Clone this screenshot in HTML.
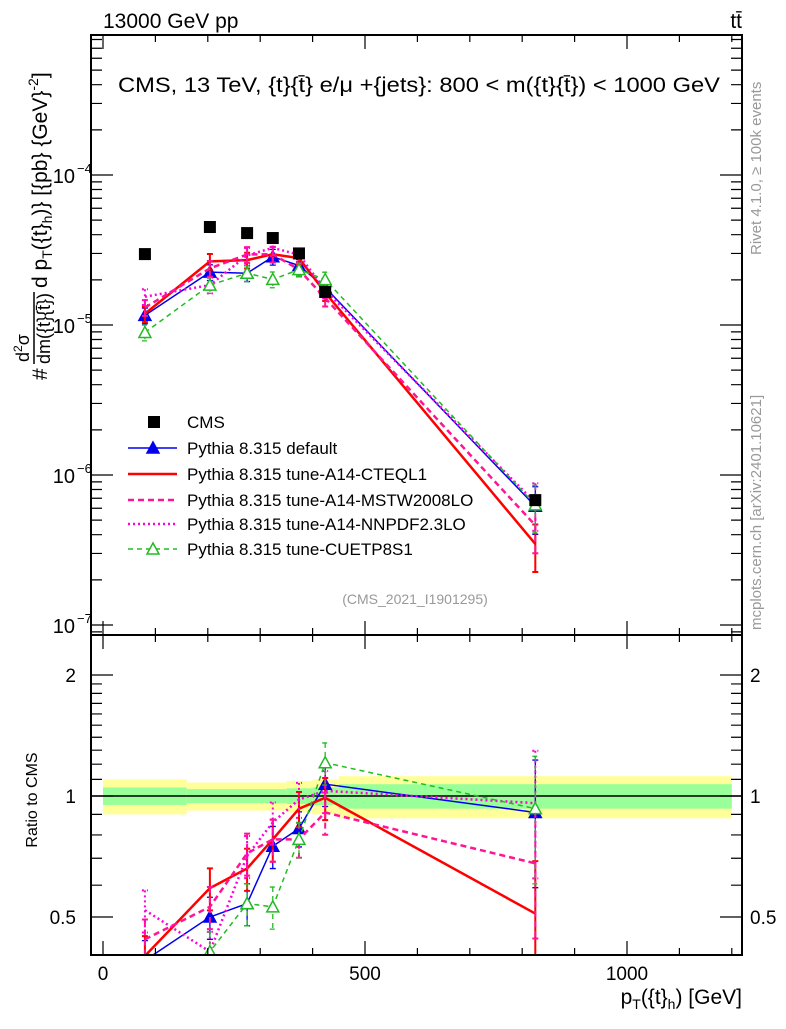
<!DOCTYPE html>
<html><head><meta charset="utf-8"><style>
body{margin:0;background:#fff;width:786px;height:1024px;overflow:hidden}
svg text{font-family:"Liberation Sans",sans-serif}
</style></head><body>
<svg id="c" width="786" height="1024" viewBox="0 0 786 1024" xmlns="http://www.w3.org/2000/svg">
<text x="103" y="28" font-size="21">13000 GeV pp</text>
<text x="742" y="28" font-size="21" text-anchor="end">tt̄</text>
<text x="118" y="92" font-size="21" textLength="602" lengthAdjust="spacingAndGlyphs">CMS, 13 TeV, {t}{t̄} e/μ +{jets}: 800 &lt; m({t}{t̄}) &lt; 1000 GeV</text>
<g transform="translate(39,380) rotate(-90)">
<text x="0" y="8" font-size="21">#</text>
<text x="18" y="-10" font-size="18">d<tspan font-size="12" dy="-7">2</tspan><tspan dy="7">σ</tspan></text>
<line x1="16" x2="88" y1="-5" y2="-5" stroke="#000" stroke-width="1.5"/>
<text x="16" y="11" font-size="18">dm({t}{t̄})</text>
<text x="92" y="8" font-size="21">d p<tspan font-size="14" dy="5">T</tspan><tspan dy="-5">({t}</tspan><tspan font-size="14" dy="5">h</tspan><tspan dy="-5">)} [{pb} {GeV}</tspan><tspan font-size="14" dy="-9">-2</tspan><tspan dy="9">]</tspan></text>
</g>
<text transform="translate(761,255) rotate(-90)" font-size="15" fill="#999">Rivet 4.1.0, ≥ 100k events</text>
<text transform="translate(761,630) rotate(-90)" font-size="15" fill="#999">mcplots.cern.ch [arXiv:2401.10621]</text>
<text x="415" y="604" font-size="14" fill="#999" text-anchor="middle">(CMS_2021_I1901295)</text>
<text transform="translate(37,800) rotate(-90)" font-size="16" text-anchor="middle">Ratio to CMS</text>
<text x="742" y="1004" font-size="21" text-anchor="end">p<tspan font-size="14" dy="5">T</tspan><tspan dy="-5">({t}</tspan><tspan font-size="14" dy="5">h</tspan><tspan dy="-5">) [GeV]</tspan></text>
<g id="g"></g>
</svg>
<script>
const xCenters=[80,204,275,324,374,424,825];
const binEdges=[0,160,250,350,400,450,1200];
const cmsValues=[2.97e-5,4.5e-5,4.1e-5,3.8e-5,3.0e-5,1.66e-5,6.8e-7];
const cmsErrIn=[0.05,0.04,0.04,0.045,0.05,0.07,0.07];
const cmsErrOut=[0.10,0.08,0.08,0.09,0.10,0.12,0.14];
const ratioDefault=[0.39,0.50,0.54,0.75,0.83,1.07,0.91];
const ratioCTEQ=[0.40,0.59,0.66,0.78,0.93,0.99,0.51];
const ratioMSTW=[0.44,0.53,0.72,0.78,0.78,0.91,0.68];
const ratioNNPDF=[0.52,0.41,0.71,0.86,0.98,1.03,0.96];
const ratioCUETP=[0.30,0.41,0.54,0.53,0.78,1.21,0.93];
const relErr=[0.12,0.12,0.12,0.12,0.1,0.12,0.35];
const yTicks=[1e-7,1e-6,1e-5,1e-4];
const yTickLabels=["10","10","10","10"];
const yTickExp=["−7","−6","−5","−4"];
const rTicks=[0.5,1,2];
const rTickLabels=["0.5","1","2"];
const xTicks=[0,500,1000];
const xTickLabels=["0","500","1000"];

const NS="http://www.w3.org/2000/svg";
const G=document.getElementById('g');
const L=91,R=742,MT=35,MB=635,RB=955;
const X=v=>103+v*0.524;
const Y=v=>175-150*(Math.log10(v)+4);
const RY=v=>796-402*Math.log10(v);
function el(t,a,p){const e=document.createElementNS(NS,t);for(const k in a)e.setAttribute(k,a[k]);(p||G).appendChild(e);return e;}

for(let i=0;i<binEdges.length-1;i++){
 const x0=X(binEdges[i]),x1=X(binEdges[i+1]);
 let b=el('rect',{x:x0,y:RY(1+cmsErrOut[i]),width:x1-x0,height:RY(1-cmsErrOut[i])-RY(1+cmsErrOut[i]),fill:'#ffff99'});
 
 
 b=el('rect',{x:x0,y:RY(1+cmsErrIn[i]),width:x1-x0,height:RY(1-cmsErrIn[i])-RY(1+cmsErrIn[i]),fill:'#99ff99'});
 
 
}
el('line',{x1:L,x2:R,y1:RY(1),y2:RY(1),stroke:'#000','stroke-width':1.5});

const defs=el('defs',{});
const c1=el('clipPath',{id:'cm'},defs);el('rect',{x:L,y:MT,width:R-L,height:MB-MT},c1);
const c2=el('clipPath',{id:'cr'},defs);el('rect',{x:L,y:MB,width:R-L,height:RB-MB},c2);
const gm=el('g',{'clip-path':'url(#cm)'});
const gr=el('g',{'clip-path':'url(#cr)'});

const series=[
 {r:ratioDefault,c:'#0000ee',w:1.5,d:'',m:'tri',f:true,n:'pythia-default'},
 {r:ratioCTEQ,c:'#ff0000',w:2.5,d:'',m:null,n:'pythia-a14-cteql1'},
 {r:ratioMSTW,c:'#ff1493',w:2.5,d:'6,4',m:null,n:'pythia-a14-mstw2008lo'},
 {r:ratioNNPDF,c:'#ff00dd',w:2.5,d:'2,3',m:null,n:'pythia-a14-nnpdf23lo'},
 {r:ratioCUETP,c:'#22bb22',w:1.5,d:'5,4',m:'tri',f:false,n:'pythia-cuetp8s1'}
];
function tri(p,x,y,s,fill){return el('polygon',{points:`${x},${y-6} ${x-6},${y+5} ${x+6},${y+5}`,fill:fill?s.c:'#fff',stroke:s.c,'stroke-width':1.5},p);}
series.forEach(s=>{
 const mv=s.r.map((r,i)=>r*cmsValues[i]);
 [[gm,i=>Y(mv[i]),v=>Y(v),mv],[gr,i=>RY(s.r[i]),v=>RY(v),s.r]].forEach(([p,fy,fv,vals],k)=>{
  const pl=el('polyline',{points:xCenters.map((x,i)=>X(x)+','+fy(i)).join(' '),fill:'none',stroke:s.c,'stroke-width':s.w,'stroke-dasharray':s.d},p);
  
  
  xCenters.forEach((x,i)=>{
   const up=fv(vals[i]*(1+relErr[i])),dn=fv(vals[i]*(1-relErr[i])),xx=X(x);
   const e=el('path',{d:`M${xx},${up}V${dn}M${xx-3},${up}h6M${xx-3},${dn}h6`,stroke:s.c,'stroke-width':s.w>2?2:1.3,'stroke-dasharray':s.d,fill:'none'},p);
   
   
   if(s.m){const t=tri(p,xx,fy(i),s,s.f);
    
    }
  });
 });
});
cmsValues.forEach((v,i)=>{
 const r=el('rect',{x:X(xCenters[i])-6,y:Y(v)-6,width:12,height:12,fill:'#000'},gm);
 
 
});

el('rect',{x:L,y:MT,width:R-L,height:MB-MT,fill:'none',stroke:'#000','stroke-width':2});
el('rect',{x:L,y:MB,width:R-L,height:RB-MB,fill:'none',stroke:'#000','stroke-width':2});
for(let v=0;v<=1200;v+=100){
 const x=X(v),big=v%500==0,h=big?14:7;
 el('path',{d:`M${x},${MT}v${h}M${x},${MB}v-${h}M${x},${MB}v${h}M${x},${RB}v-${h}`,stroke:'#000','stroke-width':1.2});
}
xTicks.forEach((v,i)=>{const t=el('text',{x:X(v),y:980,'font-size':19,'text-anchor':'middle'});t.textContent=xTickLabels[i];
 
 });
for(let d=-8;d<=-3;d++)for(let m=1;m<10;m++){
 const v=m*Math.pow(10,d),y=Y(v);if(y<MT||y>MB)continue;
 const h=m==1?22:11;
 el('path',{d:`M${L},${y}h${h}M${R},${y}h-${h}`,stroke:'#000','stroke-width':1.2});
}
yTicks.forEach((v,i)=>{const t=el('text',{x:75,y:Y(v)+8,'font-size':20,'text-anchor':'end'});t.textContent=yTickLabels[i];
 
 
 const e=el('text',{x:77,y:Y(v)-2,'font-size':13});e.textContent=yTickExp[i];});
[0.5,0.6,0.7,0.8,0.9,1,2].concat([1.1,1.2,1.3,1.4,1.5,1.6,1.7,1.8,1.9]).forEach(v=>{
 const y=RY(v),big=(v==0.5||v==1||v==2),h=big?22:11;
 el('path',{d:`M${L},${y}h${h}M${R},${y}h-${h}`,stroke:'#000','stroke-width':1.2});
});
rTicks.forEach((v,i)=>{
 let t=el('text',{x:76,y:RY(v)+7,'font-size':19,'text-anchor':'end'});t.textContent=rTickLabels[i];
 
 
 t=el('text',{x:750,y:RY(v)+7,'font-size':19});t.textContent=rTickLabels[i];
 
 
});

const lg=el('g',{});


const ly=[422,448,474,500,524,549];
el('rect',{x:148,y:ly[0]-6,width:12,height:12,fill:'#000'},lg);
const labels=['CMS','Pythia 8.315 default','Pythia 8.315 tune-A14-CTEQL1','Pythia 8.315 tune-A14-MSTW2008LO','Pythia 8.315 tune-A14-NNPDF2.3LO','Pythia 8.315 tune-CUETP8S1'];
series.forEach((s,i)=>{const y=ly[i+1];
 el('line',{x1:128,x2:177,y1:y,y2:y,stroke:s.c,'stroke-width':s.w,'stroke-dasharray':s.d},lg);
 if(s.m)tri(lg,153,y,s,s.f);});
labels.forEach((t,i)=>{const e=el('text',{x:187,y:ly[i]+6,'font-size':17},lg);e.textContent=t;
 
 });
</script>
</body></html>
